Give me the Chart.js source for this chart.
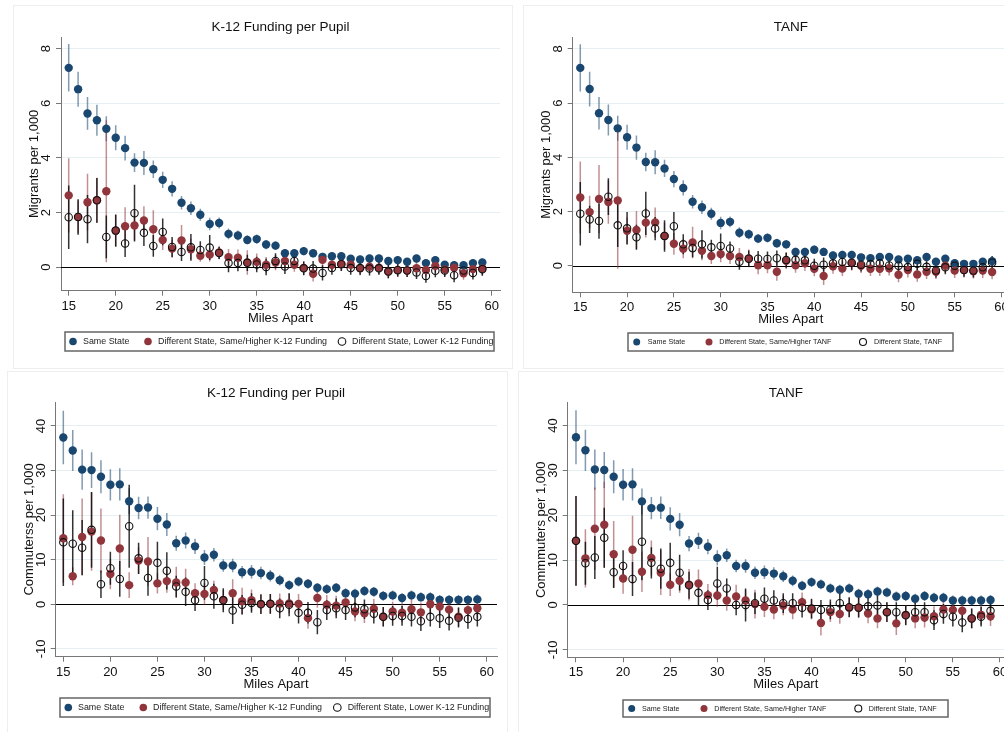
<!DOCTYPE html>
<html>
<head>
<meta charset="utf-8">
<script src="https://cdn.jsdelivr.net/npm/chart.js@4.4.1/dist/chart.umd.min.js"></script>
<style>
  body { margin: 0; background: #fff; }
  #page { position: relative; width: 1004px; height: 732px; overflow: hidden; background: #fff; }
  .frame { position: absolute; border: 1px solid #eeeeee; box-sizing: border-box; }
  canvas { position: absolute; }
</style>
</head>
<body>
<div id="page">
  <div class="frame" style="left:13px;top:5px;width:500px;height:364px"></div>
  <div class="frame" style="left:523px;top:5px;width:490px;height:364px"></div>
  <div class="frame" style="left:7px;top:371px;width:501px;height:370px"></div>
  <div class="frame" style="left:518px;top:371px;width:495px;height:370px"></div>
</div>
<script>
// Данные: расстояние (мили) и оценки с полуширинами доверительных интервалов
const miles = [15,16,17,18,19,20,21,22,23,24,25,26,27,28,29,30,31,32,33,34,35,36,37,38,39,40,41,42,43,44,45,46,47,48,49,50,51,52,53,54,55,56,57,58,59];
const xTicks = [15,20,25,30,35,40,45,50,55,60];
const migrantTicks = [0,2,4,6,8];
const commuterTicks = [-10,0,10,20,30,40];

const k12Labels = ['Same State', 'Different State, Same/Higher K-12 Funding', 'Different State, Lower K-12 Funding'];
const tanfLabels = ['Same State', 'Different State, Same/Higher TANF', 'Different State, TANF'];

// мигранты на 1000
const migSame = [7.30,6.52,5.63,5.38,5.07,4.74,4.36,3.83,3.82,3.59, 3.20,2.87,2.36,2.16,1.92,1.58,1.62,1.22,1.16,1.00, 1.03,0.83,0.79,0.51,0.51,0.59,0.51,0.38,0.40,0.40, 0.31,0.28,0.32,0.32,0.23,0.26,0.20,0.32,0.15,0.26, 0.09,0.07,0.07,0.15,0.17];
const migSameErr = [0.87,0.64,0.60,0.57,0.46,0.46,0.45,0.34,0.44,0.32, 0.30,0.28,0.25,0.25,0.22,0.23,0.20,0.20,0.18,0.17, 0.17,0.17,0.16,0.15,0.15,0.15,0.15,0.15,0.15,0.15, 0.14,0.14,0.14,0.14,0.14,0.14,0.14,0.14,0.14,0.14, 0.14,0.14,0.14,0.14,0.14];

const migK12High = [2.63,1.84,2.38,2.45,2.78,1.34,1.50,1.53,1.71,1.39, 1.00,0.68,0.98,0.66,0.42,0.46,0.54,0.37,0.35,0.17, 0.20,0.09,0.17,0.23,0.09,-0.03,-0.24,0.27,0.09,0.12, 0.09,-0.04,0.02,-0.02,-0.16,-0.10,-0.12,-0.04,-0.10,0.05, -0.08,-0.02,-0.22,-0.07,-0.05];
const migK12HighErr = [1.36,0.60,1.04,0.83,2.60,0.60,0.70,0.55,0.52,0.70, 0.37,0.33,0.57,0.38,0.22,0.25,0.25,0.30,0.30,0.45, 0.30,0.28,0.28,0.28,0.26,0.25,0.28,0.25,0.25,0.25, 0.25,0.25,0.24,0.24,0.24,0.24,0.24,0.24,0.24,0.24, 0.24,0.24,0.24,0.24,0.24];
const migK12Low = [1.83,1.84,1.76,2.45,1.11,1.34,0.87,1.98,1.26,0.78, 1.29,0.74,0.56,0.73,0.63,0.72,0.52,0.15,0.15,0.16, 0.10,0.01,0.23,0.03,0.23,-0.04,-0.05,-0.21,-0.03,0.11, -0.03,-0.03,-0.05,-0.04,-0.16,-0.11,-0.12,-0.19,-0.32,-0.13, -0.12,-0.29,-0.12,-0.21,-0.07];
const migK12LowErr = [1.16,0.65,0.88,0.82,0.78,0.58,0.50,1.04,0.48,0.40, 0.49,0.37,0.33,0.49,0.32,0.46,0.22,0.33,0.30,0.30, 0.28,0.30,0.28,0.28,0.25,0.25,0.28,0.28,0.25,0.25, 0.25,0.25,0.25,0.24,0.24,0.24,0.24,0.24,0.25,0.24, 0.24,0.26,0.24,0.24,0.24];

const migTanfHigh = [2.52,1.98,2.46,2.35,2.41,1.29,1.32,1.59,1.60,1.10, 0.81,0.63,0.86,0.55,0.36,0.43,0.36,0.32,0.27,0.02, 0.02,-0.22,0.18,0.02,0.09,-0.11,-0.38,-0.02,-0.10,0.10, 0.00,-0.11,-0.11,-0.09,-0.33,-0.16,-0.32,-0.22,-0.22,0.00, -0.18,-0.16,-0.20,-0.18,-0.23];
const migTanfHighErr = [1.33,0.60,1.26,0.80,2.52,0.50,0.70,0.55,0.55,0.50, 0.40,0.35,0.58,0.35,0.30,0.30,0.30,0.33,0.33,0.33, 0.30,0.33,0.30,0.28,0.28,0.28,0.33,0.28,0.28,0.28, 0.27,0.27,0.27,0.27,0.28,0.27,0.27,0.27,0.27,0.27, 0.27,0.27,0.27,0.27,0.27];
const migTanfOther = [1.92,1.71,1.65,2.55,1.49,1.38,1.05,1.93,1.37,1.10, 1.46,0.79,0.65,0.79,0.68,0.73,0.64,0.15,0.26,0.26, 0.25,0.28,0.21,0.22,0.20,0.00,0.04,0.09,0.14,0.11, 0.04,0.06,0.09,0.01,0.00,-0.05,0.07,-0.04,-0.18,-0.06, 0.00,-0.16,-0.18,-0.06,0.11];
const migTanfOtherErr = [1.17,0.50,0.65,0.68,0.80,0.60,0.46,0.80,0.43,0.58, 0.52,0.37,0.34,0.52,0.28,0.46,0.25,0.30,0.30,0.28, 0.28,0.28,0.28,0.26,0.26,0.26,0.26,0.26,0.26,0.26, 0.25,0.25,0.25,0.25,0.25,0.25,0.25,0.25,0.25,0.25, 0.25,0.25,0.25,0.25,0.25];

// работающие в другом месте на 1000
const comSame = [37.4,34.5,30.2,30.1,28.6,26.8,26.9,23.1,21.6,21.7, 19.2,17.9,13.7,14.3,13.0,10.5,11.1,8.7,8.7,7.2, 7.3,7.0,6.4,5.4,4.3,5.1,4.6,3.7,3.4,3.7, 2.5,2.4,3.0,2.8,1.9,2.0,1.4,2.0,1.6,1.6, 1.0,1.0,1.0,1.0,1.1];
const comSameErr = [6.0,4.6,4.5,4.0,3.7,3.5,3.6,2.9,2.5,2.5, 2.6,2.6,1.7,1.8,1.7,1.7,1.5,1.4,1.5,1.4, 1.5,1.4,1.3,1.2,1.1,1.1,1.1,1.1,1.1,1.1, 1.1,1.1,1.1,1.1,1.1,1.1,1.1,1.1,1.1,1.1, 1.1,1.1,1.1,1.1,1.1];

const comK12High = [14.8,6.3,15.1,16.3,14.3,6.8,12.5,4.3,9.8,9.6, 4.7,5.2,4.9,4.9,2.5,2.3,3.2,1.0,2.5,0.7, 0.9,0.1,0.1,0.2,0.2,0.1,-3.1,1.4,-0.1,-0.3, 0.4,-1.6,-2.0,-1.0,-2.8,-1.6,-1.9,-1.1,-1.8,0.0, -0.5,-1.2,-2.8,-1.3,-0.9];
const comK12HighErr = [9.9,2.0,8.6,8.8,7.2,3.4,7.6,2.9,3.0,5.5, 2.3,2.6,3.5,3.1,2.2,2.4,2.1,2.2,3.1,3.0, 2.4,2.2,2.2,2.2,2.2,2.2,2.4,2.2,2.2,2.2, 2.2,2.2,2.2,2.2,2.2,2.2,2.2,2.2,2.2,2.2, 2.2,2.2,2.2,2.2,2.2];
const comK12Low = [13.9,13.6,12.7,16.7,4.5,8.1,5.7,17.5,10.3,5.9, 9.3,7.5,4.0,2.8,0.9,4.8,1.8,0.9,-1.4,-0.1, 0.3,0.0,0.1,-0.9,-0.1,-1.9,-1.9,-4.0,-1.3,-0.9, -1.3,-0.7,-1.1,-2.1,-2.8,-2.6,-2.6,-2.8,-3.8,-2.8, -3.1,-3.7,-3.0,-3.3,-2.8];
const comK12LowErr = [9.8,7.5,6.2,8.5,3.1,3.7,4.0,9.3,3.5,4.0, 4.7,4.2,2.4,3.2,2.4,3.8,2.8,2.7,3.0,2.2, 2.2,2.2,2.2,2.2,2.6,2.4,2.4,2.7,2.2,2.2, 2.2,2.2,2.2,2.2,2.2,2.2,2.2,2.2,2.2,2.2, 2.2,2.2,2.2,2.2,2.2];

const comTanfHigh = [14.3,10.4,17.0,17.9,11.3,5.9,12.3,7.4,10.5,7.2, 4.5,5.4,4.5,4.8,2.2,2.1,1.0,1.9,1.0,0.2, -0.4,-1.0,-0.1,-1.0,0.6,-1.0,-4.0,-1.6,-2.0,-0.6, -0.6,-1.9,-3.0,-1.6,-4.1,-2.2,-3.0,-2.8,-2.5,-1.0, -1.1,-1.3,-3.0,-2.2,-2.5];
const comTanfHighErr = [10.0,6.5,9.2,9.6,7.4,3.4,7.6,4.5,3.9,5.0, 2.5,2.7,3.5,3.1,2.5,2.5,2.3,2.6,2.4,3.2, 2.3,2.2,2.2,2.2,2.2,2.2,2.8,2.2,2.2,2.2, 2.2,2.2,2.2,2.2,2.6,2.2,2.2,2.2,2.2,2.2, 2.2,2.2,2.2,2.2,2.2];
const comTanfOther = [14.3,9.3,10.6,15.0,7.3,8.7,5.8,14.1,9.4,8.1, 9.4,7.2,4.4,2.7,1.1,4.8,3.7,0.0,0.0,0.4, 1.4,1.0,0.4,0.4,-0.6,-0.8,-1.1,-1.0,0.4,-0.5, -0.6,-0.3,-0.1,-1.6,-1.6,-2.3,-1.6,-1.6,-3.4,-2.0, -2.6,-3.9,-3.0,-2.6,-1.3];
const comTanfOtherErr = [10.0,4.8,4.8,6.7,3.5,3.5,3.8,8.6,3.5,4.5, 4.5,4.0,3.0,2.8,2.2,3.7,2.2,2.3,3.7,2.4, 2.5,2.3,2.2,2.2,2.2,2.2,2.2,2.2,2.2,2.2, 2.2,2.2,2.2,2.2,2.2,2.2,2.2,2.2,2.2,2.2, 2.2,2.2,2.2,2.2,2.2];

const FONT = '"Liberation Sans", Arial, sans-serif';
const NAVY = '#1a476f';
const MAROON = '#90353b';

// стили трёх серий: синяя, бордовая, полая чёрная
const seriesStyle = [
    { fill: NAVY, stroke: NAVY, bar: 'rgba(26,71,111,0.55)', hollow: false },
    { fill: MAROON, stroke: MAROON, bar: 'rgba(144,53,59,0.55)', hollow: false },
    { fill: 'rgba(0,0,0,0)', stroke: '#111', bar: 'rgba(0,0,0,0.8)', hollow: true }
];

// Функция для создания одной панели
function makePanel(p) {
    const page = document.getElementById('page');
    const canvas = document.createElement('canvas');
    canvas.width = p.w;
    canvas.height = p.h;
    canvas.style.left = p.ox + 'px';
    canvas.style.top = p.oy + 'px';
    page.appendChild(canvas);

    const datasets = p.series.map((s, k) => {
        const st = seriesStyle[k];
        return {
            label: p.labels[k],
            data: miles.map((m, i) => ({ x: m, y: s.vals[i] })),
            err: s.errs,
            barColor: st.bar,
            pointRadius: st.hollow ? 3.7 : 4.2,
            pointBackgroundColor: st.fill,
            pointBorderColor: st.stroke,
            pointBorderWidth: st.hollow ? 1.1 : 0,
            showLine: false,
            order: -k // полые кружки поверх
        };
    });

    const errorBars = {
        id: 'errorBars',
        beforeDatasetsDraw(chart) {
            const { ctx, chartArea: a, scales: { x, y } } = chart;
            ctx.save();
            ctx.beginPath();
            ctx.rect(a.left, a.top, a.right - a.left, a.bottom - a.top);
            ctx.clip();
            // нулевая линия
            ctx.strokeStyle = '#000';
            ctx.lineWidth = 1;
            const y0 = Math.round(y.getPixelForValue(0)) + 0.5;
            ctx.beginPath();
            ctx.moveTo(a.left, y0);
            ctx.lineTo(a.right, y0);
            ctx.stroke();
            chart.data.datasets.forEach(ds => {
                ctx.strokeStyle = ds.barColor;
                ctx.lineWidth = 1.5;
                ds.data.forEach((pt, i) => {
                    const px = x.getPixelForValue(pt.x);
                    ctx.beginPath();
                    ctx.moveTo(px, y.getPixelForValue(pt.y - ds.err[i]));
                    ctx.lineTo(px, y.getPixelForValue(pt.y + ds.err[i]));
                    ctx.stroke();
                });
            });
            ctx.restore();
        }
    };

    const decor = {
        id: 'decor',
        afterDraw(chart) {
            const { ctx, chartArea: a, scales: { x, y } } = chart;
            ctx.save();
            ctx.fillStyle = '#111';
            ctx.textAlign = 'center';
            ctx.textBaseline = 'middle';
            ctx.font = '13.5px ' + FONT;
            ctx.fillText(p.title, p.cx - p.ox, p.titleY - p.oy);

            ctx.font = '13px ' + FONT;
            xTicks.forEach(v => ctx.fillText(String(v), x.getPixelForValue(v), a.bottom + 15.5));
            ctx.fillText('Miles Apart', p.cx - p.ox, a.bottom + 27.5);

            p.yTicks.forEach(v => {
                ctx.save();
                ctx.translate(a.left - 14.3, y.getPixelForValue(v));
                ctx.rotate(-Math.PI / 2);
                ctx.fillText(String(v), 0, 0);
                ctx.restore();
            });
            ctx.save();
            ctx.translate(a.left - 26.5, (a.top + a.bottom) / 2);
            ctx.rotate(-Math.PI / 2);
            ctx.fillText(p.yTitle, 0, 0);
            ctx.restore();

            // легенда
            const L = p.legend;
            const lx = L.x - p.ox, ly = L.y - p.oy;
            ctx.strokeStyle = '#666';
            ctx.lineWidth = 1.5;
            ctx.strokeRect(lx, ly, L.w, L.h);
            const cy = ly + L.h / 2;
            ctx.textAlign = 'left';
            ctx.font = L.font + 'px ' + FONT;
            ctx.fillStyle = '#222';
            p.labels.forEach((lab, k) => {
                const st = seriesStyle[k];
                ctx.beginPath();
                ctx.arc(L.dots[k] - p.ox, cy, L.r, 0, Math.PI * 2);
                if (st.hollow) {
                    ctx.strokeStyle = '#111';
                    ctx.lineWidth = 1.1;
                    ctx.stroke();
                } else {
                    ctx.fillStyle = st.fill;
                    ctx.fill();
                }
                ctx.fillStyle = '#222';
                ctx.fillText(lab, L.texts[k] - p.ox, cy + 0.5);
            });
            ctx.restore();
        }
    };

    const a = p.area;
    new Chart(canvas, {
        type: 'scatter',
        data: { datasets: datasets },
        options: {
            responsive: false,
            animation: false,
            devicePixelRatio: 1,
            layout: {
                autoPadding: false,
                padding: {
                    left: a.l - p.ox - 8,
                    top: a.t - p.oy,
                    right: p.w - (a.r - p.ox),
                    bottom: p.h - (a.b - p.oy) - 8
                }
            },
            plugins: {
                legend: { display: false },
                title: { display: false },
                tooltip: { enabled: false }
            },
            scales: {
                x: {
                    type: 'linear',
                    min: p.xRange[0],
                    max: p.xRange[1],
                    afterFit: s => { s.height = 8; },
                    afterBuildTicks: s => { s.ticks = xTicks.map(v => ({ value: v })); },
                    ticks: { display: false },
                    grid: { drawOnChartArea: false, drawTicks: true, tickLength: 5, tickColor: '#777' },
                    border: { color: '#777', width: 1 }
                },
                y: {
                    type: 'linear',
                    min: p.yRange[0],
                    max: p.yRange[1],
                    afterFit: s => { s.width = 8; },
                    afterBuildTicks: s => { s.ticks = p.yTicks.map(v => ({ value: v })); },
                    ticks: { display: false },
                    grid: {
                        drawOnChartArea: true,
                        drawTicks: true,
                        tickLength: 5,
                        tickColor: '#777',
                        color: c => (c.tick && c.tick.value === 0) ? 'rgba(0,0,0,0)' : '#e6eff1'
                    },
                    border: { color: '#777', width: 1 }
                }
            }
        },
        plugins: [errorBars, decor]
    });
}

makePanel({
    ox: 0, oy: 0, w: 502, h: 366,
    area: { l: 61, t: 37, r: 500, b: 290.7 },
    xRange: [14.18, 60.88], yRange: [-0.86, 8.43], yTicks: migrantTicks,
    title: 'K-12 Funding per Pupil', cx: 280.5, titleY: 27,
    yTitle: 'Migrants per 1,000',
    labels: k12Labels,
    series: [
        { vals: migSame, errs: migSameErr },
        { vals: migK12High, errs: migK12HighErr },
        { vals: migK12Low, errs: migK12LowErr }
    ],
    legend: { x: 65, y: 332, w: 429, h: 19, font: 8.9, r: 3.8, dots: [73, 148, 342], texts: [83, 158, 352] }
});

makePanel({
    ox: 502, oy: 0, w: 502, h: 366,
    area: { l: 572.7, t: 37, r: 1004, b: 292.3 },
    xRange: [14.19, 60.27], yRange: [-0.98, 8.44], yTicks: migrantTicks,
    title: 'TANF', cx: 790.8, titleY: 27,
    yTitle: 'Migrants per 1,000',
    labels: tanfLabels,
    series: [
        { vals: migSame, errs: migSameErr },
        { vals: migTanfHigh, errs: migTanfHighErr },
        { vals: migTanfOther, errs: migTanfOtherErr }
    ],
    legend: { x: 628, y: 333, w: 325, h: 18, font: 7.2, r: 3.5, dots: [636.7, 709, 863], texts: [647.7, 719.3, 874] }
});

makePanel({
    ox: 0, oy: 366, w: 502, h: 366,
    area: { l: 55.7, t: 402.3, r: 497, b: 656.7 },
    xRange: [14.19, 61.09], yRange: [-11.75, 45.3], yTicks: commuterTicks,
    title: 'K-12 Funding per Pupil', cx: 276, titleY: 393.3,
    yTitle: 'Commuterss per 1,000',
    labels: k12Labels,
    series: [
        { vals: comSame, errs: comSameErr },
        { vals: comK12High, errs: comK12HighErr },
        { vals: comK12Low, errs: comK12LowErr }
    ],
    legend: { x: 60, y: 698, w: 430, h: 19, font: 8.9, r: 3.8, dots: [68.3, 143.3, 337.3], texts: [78, 153, 347.7] }
});

makePanel({
    ox: 502, oy: 366, w: 502, h: 366,
    area: { l: 567.7, t: 402.3, r: 1004, b: 657.3 },
    xRange: [14.12, 60.43], yRange: [-11.67, 45.2], yTicks: commuterTicks,
    title: 'TANF', cx: 785.8, titleY: 393,
    yTitle: 'Commmuters per 1,000',
    labels: tanfLabels,
    series: [
        { vals: comSame, errs: comSameErr },
        { vals: comTanfHigh, errs: comTanfHighErr },
        { vals: comTanfOther, errs: comTanfOtherErr }
    ],
    legend: { x: 623, y: 700, w: 325, h: 17, font: 7.2, r: 3.5, dots: [631.7, 704, 858.3], texts: [642, 714.3, 868.7] }
});
</script>
</body>
</html>
